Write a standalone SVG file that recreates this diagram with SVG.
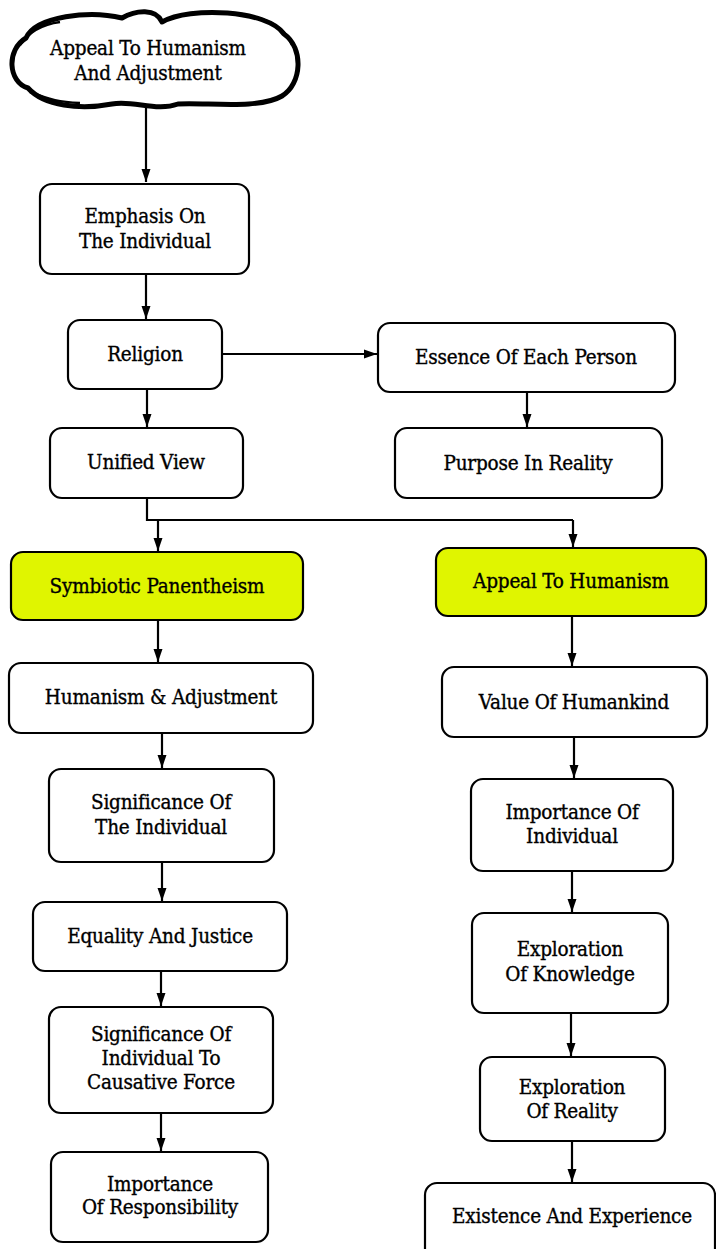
<svg xmlns="http://www.w3.org/2000/svg" width="716" height="1249" viewBox="0 0 716 1249">
<style>
.box{fill:#fff;stroke:#000;stroke-width:2.2}
.hl{fill:#e0f500;stroke:#000;stroke-width:2.2}
.t{font-family:"DejaVu Serif Condensed","DejaVu Serif",serif;font-size:20.5px;fill:#000;stroke:#000;stroke-width:0.35;text-anchor:middle;letter-spacing:-0.2px}
.c{fill:none;stroke:#000;stroke-width:2.2}
.cloud{fill:#fff;stroke:#000;stroke-width:5;stroke-linejoin:round}
</style>
<defs>
<marker id="ah" markerUnits="userSpaceOnUse" markerWidth="13" markerHeight="10" refX="13" refY="5" orient="auto">
<path d="M0,0.5 L13,5 L0,9.5 z" fill="#000"/>
</marker>
</defs>
<rect width="716" height="1249" fill="#fff"/>
<g id="connectors">
<path class="c" d="M146,106 V182" marker-end="url(#ah)"/>
<path class="c" d="M146,275 V319" marker-end="url(#ah)"/>
<path class="c" d="M147,389 V427" marker-end="url(#ah)"/>
<path class="c" d="M222,354 H377" marker-end="url(#ah)"/>
<path class="c" d="M527,392 V427" marker-end="url(#ah)"/>
<path class="c" d="M147,498 V520 H573"/>
<path class="c" d="M158,520 V551" marker-end="url(#ah)"/>
<path class="c" d="M573,520 V547" marker-end="url(#ah)"/>
<path class="c" d="M158,620 V662" marker-end="url(#ah)"/>
<path class="c" d="M162,733 V768" marker-end="url(#ah)"/>
<path class="c" d="M162,862 V901" marker-end="url(#ah)"/>
<path class="c" d="M161,971 V1006" marker-end="url(#ah)"/>
<path class="c" d="M161,1113 V1151" marker-end="url(#ah)"/>
<path class="c" d="M572,616 V666" marker-end="url(#ah)"/>
<path class="c" d="M574,737 V778" marker-end="url(#ah)"/>
<path class="c" d="M572,871 V912" marker-end="url(#ah)"/>
<path class="c" d="M571,1013 V1056" marker-end="url(#ah)"/>
<path class="c" d="M572,1141 V1182" marker-end="url(#ah)"/>
</g>
<g id="cloud">
<path class="cloud" d="M28,88 C8,82 6,50 26,38 C36,16 90,10 122,18 C136,10 156,8 162,22 C190,6 268,10 284,34 C304,48 302,84 282,96 C258,110 205,102 178,104 C156,112 134,100 112,104 C80,110 44,106 28,88 Z"/>
<path d="M20,45 C30,30 45,24 60,22 M250,16 C270,20 285,28 292,45 M30,92 C50,100 60,102 80,103" fill="none" stroke="#000" stroke-width="2.5"/>
<text class="t" x="148" y="55">Appeal To Humanism</text>
<text class="t" x="148" y="80">And Adjustment</text>
</g>
<g id="emphasis">
<rect class="box" x="40" y="184" width="209" height="90" rx="12"/>
<text class="t" x="145" y="223">Emphasis On</text>
<text class="t" x="145" y="248">The Individual</text>
</g>
<g id="religion">
<rect class="box" x="68" y="320" width="154" height="69" rx="12"/>
<text class="t" x="145" y="361">Religion</text>
</g>
<g id="unified">
<rect class="box" x="50" y="428" width="193" height="70" rx="12"/>
<text class="t" x="146" y="469">Unified View</text>
</g>
<g id="essence">
<rect class="box" x="378" y="323" width="297" height="69" rx="12"/>
<text class="t" x="526" y="364">Essence Of Each Person</text>
</g>
<g id="purpose">
<rect class="box" x="395" y="428" width="267" height="70" rx="12"/>
<text class="t" x="528" y="470">Purpose In Reality</text>
</g>
<g id="symbiotic">
<rect class="hl" x="11" y="552" width="292" height="68" rx="12"/>
<text class="t" x="157" y="593">Symbiotic Panentheism</text>
</g>
<g id="appeal">
<rect class="hl" x="436" y="548" width="270" height="68" rx="12"/>
<text class="t" x="571" y="588">Appeal To Humanism</text>
</g>
<g id="humanism-adj">
<rect class="box" x="9" y="663" width="304" height="70" rx="12"/>
<text class="t" x="161" y="704">Humanism &amp; Adjustment</text>
</g>
<g id="significance">
<rect class="box" x="49" y="769" width="225" height="93" rx="12"/>
<text class="t" x="161" y="809">Significance Of</text>
<text class="t" x="161" y="834">The Individual</text>
</g>
<g id="equality">
<rect class="box" x="33" y="902" width="254" height="69" rx="12"/>
<text class="t" x="160" y="943">Equality And Justice</text>
</g>
<g id="causative">
<rect class="box" x="49" y="1007" width="224" height="106" rx="12"/>
<text class="t" x="161" y="1041">Significance Of</text>
<text class="t" x="161" y="1065">Individual To</text>
<text class="t" x="161" y="1089">Causative Force</text>
</g>
<g id="responsibility">
<rect class="box" x="51" y="1152" width="217" height="90" rx="12"/>
<text class="t" x="160" y="1191">Importance</text>
<text class="t" x="160" y="1214">Of Responsibility</text>
</g>
<g id="value">
<rect class="box" x="442" y="667" width="265" height="70" rx="12"/>
<text class="t" x="574" y="709">Value Of Humankind</text>
</g>
<g id="importance-ind">
<rect class="box" x="471" y="779" width="202" height="92" rx="12"/>
<text class="t" x="572" y="819">Importance Of</text>
<text class="t" x="572" y="843">Individual</text>
</g>
<g id="knowledge">
<rect class="box" x="472" y="913" width="196" height="100" rx="12"/>
<text class="t" x="570" y="956">Exploration</text>
<text class="t" x="570" y="981">Of Knowledge</text>
</g>
<g id="reality">
<rect class="box" x="480" y="1057" width="185" height="84" rx="12"/>
<text class="t" x="572" y="1094">Exploration</text>
<text class="t" x="572" y="1118">Of Reality</text>
</g>
<g id="existence">
<rect class="box" x="425" y="1183" width="290" height="80" rx="12"/>
<text class="t" x="572" y="1223">Existence And Experience</text>
</g>
</svg>
